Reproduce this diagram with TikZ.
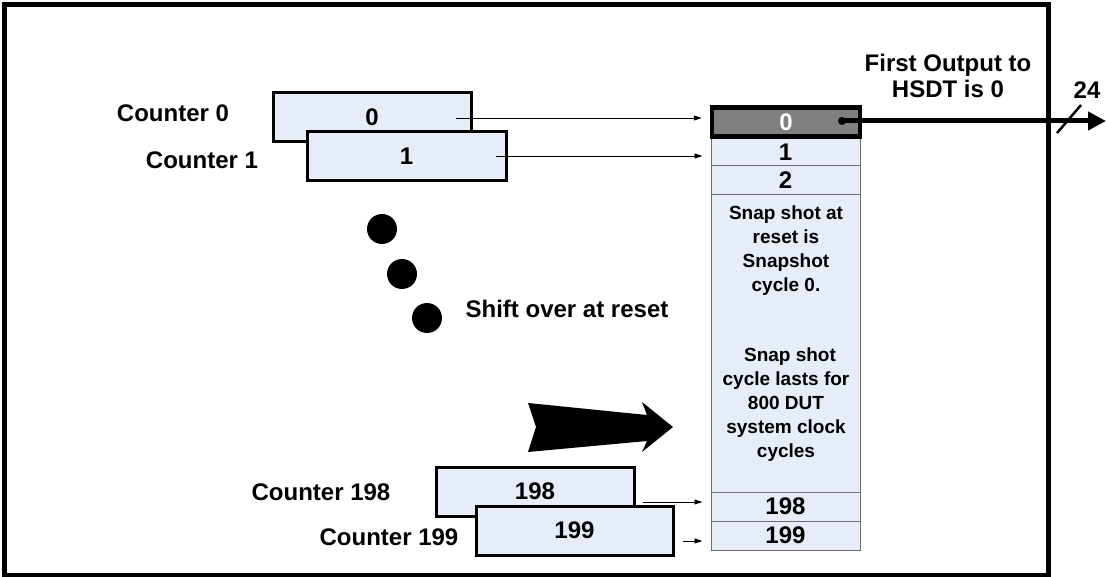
\documentclass[tikz,border=0pt]{standalone}
\usepackage{fontspec}
\setmainfont{Liberation Sans}
\usetikzlibrary{arrows.meta}
\definecolor{cellblue}{RGB}{230,236,248}
\definecolor{topgrey}{RGB}{128,128,128}
\definecolor{cellline}{RGB}{110,110,110}
\begin{document}
\begin{tikzpicture}[x=1pt,y=-1pt,
  lbl/.style={font=\fontsize{24}{26}\selectfont\bfseries, inner sep=0pt},
  note/.style={font=\fontsize{19}{24}\selectfont\bfseries, align=center, inner sep=0pt},
  ctrbox/.style={draw=black, line width=3pt, fill=cellblue, inner sep=0pt,
    minimum width=198pt, minimum height=49pt, font=\fontsize{24}{26}\selectfont\bfseries},
  slot/.style={draw=cellline, line width=1pt, fill=cellblue, inner sep=0pt,
    minimum width=149pt, font=\fontsize{24}{26}\selectfont\bfseries},
  feed/.style={line width=0.8pt, -{Triangle[length=8pt,width=5pt]}, shorten >=8pt},
  dot/.style={circle, fill=black, minimum size=30pt, inner sep=0pt}
]
\useasboundingbox (0,0) rectangle (1106,577);

% outer frame
\draw[line width=5pt] (4,5) rectangle (1048,575);

% snapshot memory column
\node[slot, minimum height=28pt] (c1) at (785.5,152) {1};
\node[slot, minimum height=29pt] (c2) at (785.5,180.5) {2};
\node[slot, minimum height=297pt] (cmid) at (785.5,343.5) {};
\node[slot, minimum height=29pt] (c198) at (785.5,506.5) {198};
\node[slot, minimum height=29pt] (c199) at (785.5,535.5) {199};
\node[draw=black, line width=4.5pt, fill=topgrey, text=white, inner sep=0pt,
  minimum width=148pt, minimum height=29pt,
  font=\fontsize{24}{26}\selectfont\bfseries] (c0) at (786,122) {0};

\node[note] (n1) at (786,251) {Snap shot at\\reset is\\Snapshot\\cycle 0.};
\node[note] (n2) at (786,404.5) {\hspace*{8pt}Snap shot\\cycle lasts for\\800 DUT\\system clock\\cycles};

% counters
\node[ctrbox] (k0) at (372,117.5) {0};
\node[ctrbox, minimum width=199pt] (k1) at (406.5,156.5) {1};
\node[ctrbox] (k198) at (535,491.5) {198};
\node[ctrbox, minimum width=197pt] (k199) at (574.5,530.5) {199};

\node[lbl] (l0) at (173,113) {Counter 0};
\node[lbl] (l1) at (202,160) {Counter 1};
\node[lbl] (l198) at (321,492) {Counter 198};
\node[lbl] (l199) at (389,537) {Counter 199};

% feed arrows into the column
\coordinate (s0) at (456,118);
\coordinate (s1) at (496,156);
\coordinate (s198) at (643,502);
\coordinate (s199) at (683,541);
\draw[feed] (s0) -- (s0 -| c0.west);
\draw[feed] (s1) -- (s1 -| c1.west);
\draw[feed] (s198) -- (s198 -| c198.west);
\draw[feed] (s199) -- (s199 -| c199.west);

% ellipsis dots
\node[dot] (d1) at (382,229) {};
\node[dot] (d2) at (402,274) {};
\node[dot] (d3) at (427,318) {};
\node[lbl] (shift) at (567,309) {Shift over at reset};

% notched shift arrow
\fill (528,403) -- (647,415) -- (642,402) -- (673,427) -- (642,452) -- (647,441)
  -- (528,452) -- (536,427) -- cycle;

% output bus
\coordinate (obeg) at (842,121);
\coordinate (oend) at (1106,121);
\fill (obeg) circle (4pt);
\draw[line width=5pt, -{Triangle[length=18pt,width=18pt]}] (obeg) -- (oend);
\coordinate (w1) at (1057,133);
\coordinate (w2) at (1081,105);
\draw[line width=2.5pt] (w1) -- (w2);
\node[lbl] (bw) at (1087,90) {24};
\node[lbl, align=center] (out) at (948,76) {First Output to\\HSDT is 0};
\end{tikzpicture}
\end{document}
